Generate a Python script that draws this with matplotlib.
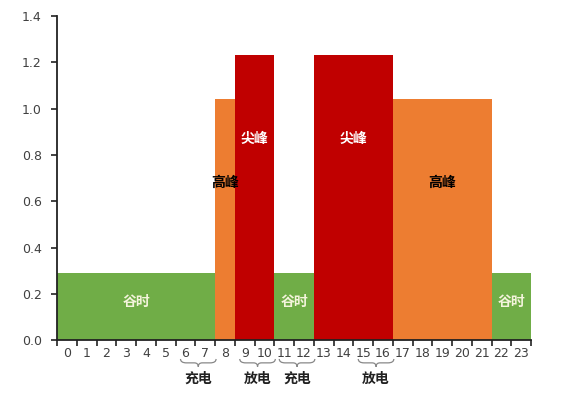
#!/usr/bin/env python

import matplotlib
matplotlib.use("Agg")
import matplotlib.pyplot as plt
from matplotlib.path import Path
from matplotlib.patches import PathPatch
import numpy as np

plt.rcParams['font.family'] = ['DejaVu Sans', 'Noto Sans CJK SC']

# price periods: start hour, end hour, relative price, period name
seg_start = [0, 8, 9, 11, 13, 17, 22]
seg_end = [8, 9, 11, 13, 17, 22, 24]
seg_value = [0.29, 1.04, 1.23, 0.29, 1.23, 1.04, 0.29]
seg_period = ["谷时", "高峰", "尖峰", "谷时", "尖峰", "高峰", "谷时"]

hour_labels = [str(h) for h in range(24)]

# storage actions under the axis
act_start = [6, 9, 11, 15]
act_end = [8, 11, 13, 17]
act_label = ["充电", "放电", "充电", "放电"]

colors = {"谷时": "#70AD47", "高峰": "#ED7D31", "尖峰": "#C00000"}
text_colors = {"谷时": "#f4f4dc", "高峰": "black", "尖峰": "white"}
text_y = {"谷时": 0.165, "高峰": 0.68, "尖峰": 0.87}

fig = plt.figure(figsize=(5.65, 3.96), dpi=100)
ax = fig.add_axes([0.101, 0.141, 0.839, 0.819])

for s, e, v, p in zip(seg_start, seg_end, seg_value, seg_period):
	ax.bar(s, v, width=e - s, align="edge", color=colors[p], linewidth=0)
	ax.text((s + e) / 2, text_y[p], p, color=text_colors[p], ha="center", va="center",
		fontsize=10, fontweight="bold", family=["Noto Sans CJK SC"])

ax.set_xlim(0, 24)
ax.set_ylim(0, 1.4)
ax.set_yticks(np.arange(0, 1.41, 0.2))
ax.set_yticklabels([f"{v:.1f}" for v in np.arange(0, 1.41, 0.2)])
ax.set_xticks(np.arange(0, 25))
ax.set_xticklabels([])
ax.set_xticks(np.arange(24) + 0.5, minor=True)
ax.set_xticklabels(hour_labels, minor=True)
ax.tick_params(axis="x", which="minor", length=0, pad=5)
ax.tick_params(axis="both", which="major", length=4, width=1.2, color="#222222", direction="out")
ax.tick_params(axis="y", pad=7)
ax.tick_params(axis="both", which="both", labelsize=9, labelcolor="#404040")

for side in ["top", "right"]:
	ax.spines[side].set_visible(False)
for side in ["left", "bottom"]:
	ax.spines[side].set_linewidth(1.3)
	ax.spines[side].set_color("#222222")

# curly braces below the hour labels
trans = ax.get_xaxis_transform()
for s, e, lab in zip(act_start, act_end, act_label):
	x0, x1 = s + 0.25, e + 0.05
	xm = (x0 + x1) / 2
	y_top, y_mid, y_tip = -0.058, -0.07, -0.082
	verts = [(x0, y_top), (x0, y_mid), (x0 + 0.3, y_mid), (xm - 0.2, y_mid), (xm, y_mid), (xm, y_tip),
		(xm, y_mid), (xm + 0.2, y_mid), (x1 - 0.3, y_mid), (x1, y_mid), (x1, y_top)]
	codes = [Path.MOVETO, Path.CURVE3, Path.CURVE3, Path.LINETO, Path.CURVE3, Path.CURVE3,
		Path.CURVE3, Path.CURVE3, Path.LINETO, Path.CURVE3, Path.CURVE3]
	ax.add_patch(PathPatch(Path(verts, codes), transform=trans, fill=False, edgecolor="#888888",
		linewidth=0.9, clip_on=False))
	ax.text(xm, -0.118, lab, transform=trans, ha="center", va="center", fontsize=10,
		fontweight="bold", color="#222222", family=["Noto Sans CJK SC"])

fig.savefig("out.png", dpi=100)
